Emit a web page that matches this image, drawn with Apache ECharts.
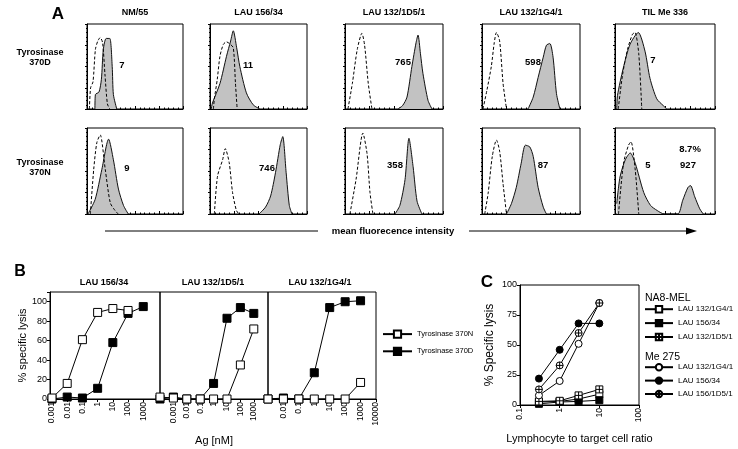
<!DOCTYPE html>
<html>
<head>
<meta charset="utf-8">
<script src="https://cdn.jsdelivr.net/npm/echarts@6.0.0/dist/echarts.min.js"></script>
<style>
html,body{margin:0;padding:0;background:#fff;}
#main{width:738px;height:449px;}
</style>
</head>
<body>
<div id="main"></div>
<script>
// ---------- panel A : flow histograms, x = decades (0..4), y = % of panel height
var cellLines = ['NM/55', 'LAU 156/34', 'LAU 132/1D5/1', 'LAU 132/1G4/1', 'TIL Me 336'];
var peptides = ['Tyrosinase\n370D', 'Tyrosinase\n370N'];

var ctrl370D = [
  [[0.1,0],[0.15,25],[0.25,32],[0.35,70],[0.45,80],[0.55,84],[0.65,78],[0.75,40],[0.85,6],[0.95,0]],
  [[0.14,0],[0.18,12],[0.3,35],[0.41,62],[0.55,76],[0.68,79],[0.8,77],[0.96,72],[1.05,30],[1.12,0]],
  [[0.12,0],[0.3,30],[0.5,70],[0.69,89],[0.8,75],[0.95,30],[1.1,0]],
  [[0.04,0],[0.2,22],[0.38,50],[0.5,78],[0.59,90],[0.72,80],[0.86,30],[1.0,0]],
  [[0.13,0],[0.3,40],[0.5,70],[0.7,88],[0.8,90],[0.95,65],[1.07,0]]
];
var stain370D = [
  [[0.33,0],[0.35,17],[0.5,20],[0.6,35],[0.68,70],[0.8,83],[0.95,83],[1.05,50],[1.1,17],[1.24,0]],
  [[0.05,0],[0.1,7],[0.41,30],[0.68,62],[0.85,80],[0.96,92],[1.1,72],[1.23,50],[1.5,19],[1.78,5],[2.05,0]],
  [[2.16,0],[2.35,4],[2.53,14],[2.73,50],[2.9,78],[2.98,87],[3.08,65],[3.18,42],[3.39,10],[3.55,0]],
  [[1.88,0],[2.09,14],[2.29,37],[2.5,61],[2.63,75],[2.77,77],[2.9,61],[3.04,18],[3.18,0]],
  [[0.07,0],[0.1,16],[0.33,48],[0.6,76],[0.93,90],[1.2,68],[1.4,36],[1.67,12],[1.93,4],[2.07,0]]
];
var ctrl370N = [
  [[0.14,0],[0.28,52],[0.41,83],[0.55,92],[0.76,52],[0.97,13],[1.17,4],[1.3,0]],
  [[0.18,0],[0.31,44],[0.52,63],[0.63,76],[0.79,60],[0.93,25],[1.09,4],[1.2,0]],
  [[0.2,0],[0.45,40],[0.73,94],[0.9,70],[1.02,25],[1.14,0]],
  [[0.11,0],[0.25,24],[0.42,67],[0.59,86],[0.72,73],[0.86,35],[1.0,0]],
  [[0.14,0],[0.34,59],[0.54,80],[0.64,84],[0.81,51],[0.95,0]]
];
var stain370N = [
  [[0.04,0],[0.34,17],[0.62,52],[0.9,87],[1.1,63],[1.31,29],[1.52,10],[1.72,0]],
  [[2.02,0],[2.29,8],[2.5,21],[2.7,48],[2.9,81],[3.0,90],[3.14,48],[3.27,10],[3.38,0]],
  [[2.04,0],[2.24,10],[2.45,40],[2.61,88],[2.78,55],[2.94,15],[3.14,0]],
  [[1.0,0],[1.2,12],[1.4,31],[1.6,59],[1.77,80],[1.95,78],[2.09,67],[2.29,31],[2.5,8],[2.63,0]],
  [[0.07,12],[0.2,43],[0.41,63],[0.61,71],[0.81,59],[1.15,25],[1.42,10],[1.69,4],[1.97,0],[2.51,0],[2.71,16],[2.92,31],[3.02,33],[3.19,20],[3.39,6],[3.53,0]]
];
var mfi370D = ['7', '11', '765', '598', '7'];
var mfi370N = ['9', '746', '358', '87', '5'];

// ---------- panel B : % specific lysis vs peptide dose
var bTitles = ['LAU 156/34', 'LAU 132/1D5/1', 'LAU 132/1G4/1'];
var agTickLabels = ['0.001', '0.01', '0.1', '1', '10', '100', '1000', '10000'];
var dose1 = [0.001, 0.01, 0.1, 1, 10, 100, 1000];
var dose2 = [0.0001, 0.001, 0.01, 0.1, 1, 10, 100, 1000];
var dose3 = [0.001, 0.01, 0.1, 1, 10, 100, 1000];
var lysis370N_1 = [1, 16, 61, 89, 93, 91, null];
var lysis370D_1 = [0, 2, 1, 11, 58, 88, 95];
var lysis370N_2 = [2, 1, 0, 0, 0, 0, 35, 72];
var lysis370D_2 = [0, 2, 0, 0, 16, 83, 94, 88];
var lysis370N_3 = [0, 0, 0, 0, 0, 0, 17];
var lysis370D_3 = [0, 1, 0, 27, 94, 100, 101];

// ---------- panel C : lysis vs E:T ratio
var etRatio = [0.3, 1, 3, 10];
var na8_1G4 = [2.5, 3, 5, 9];
var na8_156 = [1, 2.5, 3, 4];
var na8_1D5 = [3, 3.5, 8, 13];
var me_1G4 = [8, 20, 51, 85];
var me_156 = [22, 46, 68, 68];
var me_1D5 = [13, 33, 60, 85];

var FONT = '"Liberation Sans", Arial, Helvetica, sans-serif';
var NARROW = '"Liberation Sans Narrow", "Liberation Sans", Arial, sans-serif';
var SQ_CROSS = 'path://M0,0H10V10H0Z M5,0V10 M0,5H10';
var CI_CROSS = 'path://M0,5A5,5 0 1 1 10,5A5,5 0 1 1 0,5Z M5,0V10 M0,5H10';

function pairs(xs, ys) {
  var out = [];
  for (var i = 0; i < xs.length; i++) out.push([xs[i], ys[i]]);
  return out;
}
function txt(s, x, y, size, bold, align) {
  return {
    type: 'text', x: x, y: y, silent: true,
    style: {
      text: s, fill: '#000',
      font: (bold ? 'bold ' : '') + size + 'px ' + FONT,
      textAlign: align || 'center', textVerticalAlign: 'middle',
      align: align || 'center', verticalAlign: 'middle', lineHeight: size + 1
    }
  };
}

var grids = [], xAxes = [], yAxes = [], series = [], graphics = [];

// ---- A
var colLeft = [87, 210, 345, 482, 615], colW = [96, 97, 98, 98, 100];
var rowTop = [24, 128], rowH = [85, 86];
var rowsA = [
  {ctrl: ctrl370D, stain: stain370D},
  {ctrl: ctrl370N, stain: stain370N}
];
rowsA.forEach(function (r, ri) {
  for (var ci = 0; ci < 5; ci++) {
    var gi = grids.length;
    grids.push({left: colLeft[ci], top: rowTop[ri], width: colW[ci], height: rowH[ri],
      show: true, borderColor: '#000', borderWidth: 1, backgroundColor: '#fff'});
    xAxes.push({gridIndex: gi, type: 'value', min: 0, max: 4, interval: 1,
      axisLine: {lineStyle: {color: '#000', width: 1}},
      axisTick: {inside: true, length: 3, lineStyle: {color: '#000'}},
      minorTick: {show: true, splitNumber: 5, length: 1.5, lineStyle: {color: '#000'}},
      axisLabel: {show: false}, splitLine: {show: false}});
    yAxes.push({gridIndex: gi, type: 'value', min: 0, max: 100, interval: 25,
      axisLine: {show: true, lineStyle: {color: '#000', width: 1}},
      axisTick: {length: 2, lineStyle: {color: '#000'}},
      minorTick: {show: true, splitNumber: 5, length: 1, lineStyle: {color: '#000'}},
      axisLabel: {show: false}, splitLine: {show: false}});
    series.push({type: 'line', xAxisIndex: gi, yAxisIndex: gi, data: r.stain[ci],
      symbol: 'none', smooth: 0.25, silent: true,
      lineStyle: {color: '#111', width: 1}, areaStyle: {color: '#c2c2c2', opacity: 1}});
    series.push({type: 'line', xAxisIndex: gi, yAxisIndex: gi, data: r.ctrl[ci],
      symbol: 'none', smooth: 0.25, silent: true,
      lineStyle: {color: '#000', width: 1, type: [3, 2]}});
  }
});
cellLines.forEach(function (c, i) { graphics.push(txt(c, colLeft[i] + colW[i] / 2, 13, 9, true)); });
graphics.push(txt(peptides[0], 40, 58, 9, true));
graphics.push(txt(peptides[1], 40, 168, 9, true));
var mfiPos1 = [[122, 65], [248, 65], [403, 62], [533, 62], [653, 60]];
var mfiPos2 = [[127, 168], [267, 168], [395, 165], [543, 165], [648, 165]];
mfi370D.forEach(function (m, i) { graphics.push(txt(m, mfiPos1[i][0], mfiPos1[i][1], 9.5, true)); });
mfi370N.forEach(function (m, i) { graphics.push(txt(m, mfiPos2[i][0], mfiPos2[i][1], 9.5, true)); });
graphics.push(txt('927', 688, 165, 9.5, true));
graphics.push(txt('8.7%', 690, 149, 9.5, true));
graphics.push(txt('mean fluorecence intensity', 393, 231, 9.5, true));
graphics.push({type: 'line', silent: true, shape: {x1: 105, y1: 231, x2: 318, y2: 231}, style: {stroke: '#000', lineWidth: 1}});
graphics.push({type: 'line', silent: true, shape: {x1: 469, y1: 231, x2: 688, y2: 231}, style: {stroke: '#000', lineWidth: 1}});
graphics.push({type: 'polygon', silent: true, shape: {points: [[686, 227.5], [697, 231], [686, 234.5]]}, style: {fill: '#000'}});
graphics.push(txt('A', 58, 14, 17, true));

// ---- B
var bPanels = [
  {left: 50, width: 110, min: 0.00074, max: 12600, lo: -3, hi: 3,
    dose: dose1, n: lysis370N_1, d: lysis370D_1, center: 104},
  {left: 160, width: 108, min: 0.0001, max: 11500, lo: -3, hi: 3,
    dose: dose2, n: lysis370N_2, d: lysis370D_2, center: 213},
  {left: 268, width: 108, min: 0.001, max: 10000, lo: -2, hi: 4,
    dose: dose3, n: lysis370N_3, d: lysis370D_3, center: 320}
];
bPanels.forEach(function (p, k) {
  var gi = grids.length;
  grids.push({left: p.left, top: 292, width: p.width, height: 107,
    show: true, borderColor: '#000', borderWidth: 1});
  xAxes.push({gridIndex: gi, type: 'log', logBase: 10, min: p.min, max: p.max,
    name: k === 1 ? 'Ag [nM]' : '', nameLocation: 'middle', nameGap: 36,
    nameTextStyle: {fontFamily: FONT, fontSize: 11, color: '#000'},
    axisLine: {lineStyle: {color: '#000', width: 1}},
    axisTick: {length: 3, lineStyle: {color: '#000'}},
    splitLine: {show: false}, minorTick: {show: false},
    axisLabel: {rotate: 90, margin: 3, fontFamily: FONT, fontSize: 8.5, color: '#000',
      formatter: (function (lo, hi) {
        return function (v) {
          var e = Math.log(v) / Math.LN10, r = Math.round(e);
          if (Math.abs(e - r) > 0.01 || r < lo || r > hi) return '';
          return agTickLabels[r + 3];
        };
      })(p.lo, p.hi)}});
  yAxes.push({gridIndex: gi, type: 'value', min: 0, max: 110, interval: 20, show: k === 0,
    name: '% specific lysis', nameLocation: 'middle', nameGap: 22, nameRotate: 90,
    nameTextStyle: {fontFamily: FONT, fontSize: 11, color: '#000'},
    axisLine: {show: true, lineStyle: {color: '#000', width: 1}},
    axisTick: {length: 3, lineStyle: {color: '#000'}},
    splitLine: {show: false},
    axisLabel: {margin: 3, fontFamily: FONT, fontSize: 9, color: '#000',
      formatter: function (v) { return v % 20 === 0 ? String(v) : ''; }}});
  series.push({name: 'Tyrosinase 370D', type: 'line', xAxisIndex: gi, yAxisIndex: gi,
    data: pairs(p.dose, p.d), connectNulls: false, clip: false,
    symbol: 'rect', symbolSize: 8, lineStyle: {color: '#000', width: 1},
    itemStyle: {color: '#000', borderColor: '#000', borderWidth: 1}});
  series.push({name: 'Tyrosinase 370N', type: 'line', xAxisIndex: gi, yAxisIndex: gi,
    data: pairs(p.dose, p.n), connectNulls: false, clip: false,
    symbol: 'rect', symbolSize: 8, lineStyle: {color: '#000', width: 1},
    itemStyle: {color: '#fff', borderColor: '#000', borderWidth: 1}});
  graphics.push(txt(bTitles[k], p.center, 283, 9, true));
});
graphics.push(txt('B', 20, 272, 16, true));

// ---- C
var gc = grids.length;
grids.push({left: 520, top: 285, width: 119, height: 120, show: true, borderColor: '#000', borderWidth: 1});
xAxes.push({gridIndex: gc, type: 'log', logBase: 10, min: 0.1, max: 100,
  name: 'Lymphocyte to target cell ratio', nameLocation: 'middle', nameGap: 28,
  nameTextStyle: {fontFamily: FONT, fontSize: 11, color: '#000'},
  axisLine: {lineStyle: {color: '#000', width: 1}},
  axisTick: {length: 3, lineStyle: {color: '#000'}},
  splitLine: {show: false}, minorTick: {show: false},
  axisLabel: {rotate: 90, margin: 3, fontFamily: FONT, fontSize: 8.5, color: '#000'}});
yAxes.push({gridIndex: gc, type: 'value', min: 0, max: 100, interval: 25,
  name: '% Specific lysis', nameLocation: 'middle', nameGap: 24, nameRotate: 90,
  nameTextStyle: {fontFamily: FONT, fontSize: 12, color: '#000'},
  axisLine: {show: true, lineStyle: {color: '#000', width: 1}},
  axisTick: {length: 3, lineStyle: {color: '#000'}},
  splitLine: {show: false},
  axisLabel: {margin: 3, fontFamily: FONT, fontSize: 9, color: '#000'}});
var cSeries = [
  {name: 'NA8|LAU 132/1G4/1', y: na8_1G4, symbol: 'rect', fill: '#fff'},
  {name: 'NA8|LAU 156/34', y: na8_156, symbol: 'rect', fill: '#000'},
  {name: 'NA8|LAU 132/1D5/1', y: na8_1D5, symbol: SQ_CROSS, fill: '#fff'},
  {name: 'ME|LAU 132/1G4/1', y: me_1G4, symbol: 'circle', fill: '#fff'},
  {name: 'ME|LAU 156/34', y: me_156, symbol: 'circle', fill: '#000'},
  {name: 'ME|LAU 156/1D5/1', y: me_1D5, symbol: CI_CROSS, fill: '#fff'}
];
cSeries.forEach(function (s) {
  series.push({name: s.name, type: 'line', xAxisIndex: gc, yAxisIndex: gc,
    data: pairs(etRatio, s.y), clip: false,
    symbol: s.symbol, symbolSize: 7, symbolKeepAspect: true,
    lineStyle: {color: '#000', width: 1},
    itemStyle: {color: s.fill, borderColor: '#000', borderWidth: 1}});
});
graphics.push(txt('C', 487, 282, 17, true));
graphics.push(txt('NA8-MEL', 645, 298, 10.5, false, 'left'));
graphics.push(txt('Me 275', 645, 357, 10.5, false, 'left'));

var stripName = function (n) { return n.indexOf('|') >= 0 ? n.split('|')[1] : n; };
var legends = [
  {left: 382, top: 329.5, padding: 0, orient: 'vertical', itemWidth: 29, itemHeight: 9, itemGap: 8,
    data: ['Tyrosinase 370N', 'Tyrosinase 370D'], selectedMode: false,
    textStyle: {fontFamily: NARROW, fontSize: 7.5, color: '#000', lineHeight: 9}},
  {left: 644, top: 305, padding: 0, orient: 'vertical', itemWidth: 28, itemHeight: 8, itemGap: 5.5,
    data: ['NA8|LAU 132/1G4/1', 'NA8|LAU 156/34', 'NA8|LAU 132/1D5/1'], selectedMode: false,
    formatter: stripName,
    textStyle: {fontFamily: FONT, fontSize: 8, color: '#000', lineHeight: 8}},
  {left: 644, top: 363, padding: 0, orient: 'vertical', itemWidth: 28, itemHeight: 8, itemGap: 5,
    data: ['ME|LAU 132/1G4/1', 'ME|LAU 156/34', 'ME|LAU 156/1D5/1'], selectedMode: false,
    formatter: stripName,
    textStyle: {fontFamily: FONT, fontSize: 8, color: '#000', lineHeight: 8}}
];

var chart = echarts.init(document.getElementById('main'));
chart.setOption({
  backgroundColor: '#fff',
  animation: false,
  textStyle: {fontFamily: FONT},
  grid: grids,
  xAxis: xAxes,
  yAxis: yAxes,
  legend: legends,
  series: series,
  graphic: {elements: graphics}
});
</script>
</body>
</html>
